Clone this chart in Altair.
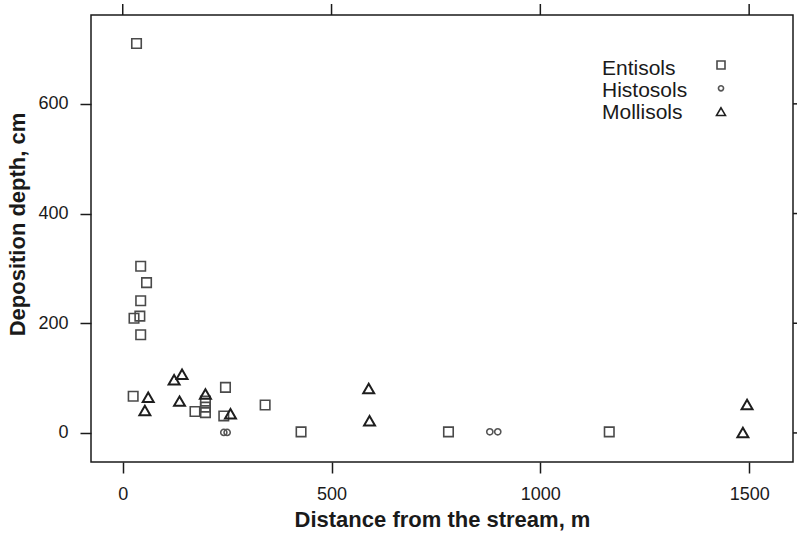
import altair as alt
import pandas as pd

# ---- data ----
soils = ["Entisols", "Histosols", "Mollisols"]

ent_x = [33, 43, 57, 43, 41, 27, 43, 25, 246, 341, 173, 198, 198, 198, 242, 427, 780, 1165]
ent_y = [710, 304, 274, 241, 213, 209, 179, 67, 83, 51, 39, 58, 47, 37, 31, 2, 2, 2]

his_x = [242, 250, 879, 898]
his_y = [1, 1, 2, 2]

mol_x = [142, 123, 61, 53, 136, 198, 258, 589, 591, 1495, 1485]
mol_y = [107, 97, 65, 41, 58, 71, 35, 81, 22, 52, 1]

x_ticks = [0, 500, 1000, 1500]
y_ticks = [0, 200, 400, 600]

FONT = "Liberation Sans"
INK = "#1a1a1a"
W, H = 702, 447

xscale = alt.Scale(domain=[-76, 1605], nice=False, zero=False)
yscale = alt.Scale(domain=[-53, 762], nice=False, zero=False)

xaxis = alt.Axis(values=x_ticks, format="d", title="Distance from the stream, m", grid=False, domain=False,
                 tickSize=11, tickWidth=1.5, tickColor=INK, labelFontSize=18, labelPadding=12,
                 labelColor=INK, labelFont=FONT, titleFont=FONT, titleFontSize=22,
                 titleFontWeight="bold", titleColor=INK, titlePadding=6, labelFlush=False)
yaxis = alt.Axis(values=y_ticks, format="d", title="Deposition depth, cm", grid=False, domain=False,
                 tickSize=11, tickWidth=1.5, tickColor=INK, labelFontSize=18, labelPadding=12,
                 labelColor=INK, labelFont=FONT, titleFont=FONT, titleFontSize=22,
                 titleFontWeight="bold", titleColor=INK, titlePadding=8, labelFlush=False,
                 titleY=209)

ent = pd.DataFrame({"x": ent_x, "y": ent_y, "soil": soils[0]})
his = pd.DataFrame({"x": his_x, "y": his_y, "soil": soils[1]})
mol = pd.DataFrame({"x": mol_x, "y": mol_y, "soil": soils[2]})

base_enc = dict(
    x=alt.X("x:Q", scale=xscale, axis=xaxis),
    y=alt.Y("y:Q", scale=yscale, axis=yaxis),
)

ent_layer = alt.Chart(ent).mark_point(shape="square", size=90, filled=False, stroke="#4a4a4a",
                                      strokeWidth=1.6, opacity=1).encode(**base_enc)
his_layer = alt.Chart(his).mark_point(shape="circle", size=38, filled=False, stroke="#555555",
                                      strokeWidth=1.6, opacity=1).encode(**base_enc)
mol_layer = alt.Chart(mol).mark_point(shape="triangle-up", size=120, filled=False, stroke="#1e1e1e",
                                      strokeWidth=2, opacity=1).encode(**base_enc)

# ticks on the top and right edges (lattice style)
top_ticks = alt.Chart(pd.DataFrame({"t": x_ticks})).mark_rule(color=INK, strokeWidth=1.5).encode(
    x=alt.X("t:Q", scale=xscale), y=alt.value(-11), y2=alt.value(0))
right_ticks = alt.Chart(pd.DataFrame({"t": y_ticks})).mark_rule(color=INK, strokeWidth=1.5).encode(
    y=alt.Y("t:Q", scale=yscale), x=alt.value(W), x2=alt.value(W + 11))

# legend inside the panel: text left, symbol right
legend_shapes = ["square", "circle", "triangle-up"]
legend_sizes = [64, 26, 80]
legend_strokes = ["#4a4a4a", "#555555", "#1e1e1e"]
legend_layers = []
for i, name in enumerate(soils):
    d = pd.DataFrame({"label": [name]})
    legend_layers.append(
        alt.Chart(d).mark_text(align="left", baseline="middle", font=FONT, fontSize=21, color=INK).encode(
            text="label:N", x=alt.value(511), y=alt.value(53.5 + 22.2 * i)))
    legend_layers.append(
        alt.Chart(d).mark_point(shape=legend_shapes[i], size=legend_sizes[i], filled=False,
                                stroke=legend_strokes[i], strokeWidth=1.6, opacity=1).encode(
            x=alt.value(630), y=alt.value(50 + 23.3 * i)))

chart = alt.layer(ent_layer, his_layer, mol_layer, top_ticks, right_ticks, *legend_layers).properties(
    width=W, height=H,
    autosize=alt.AutoSizeParams(type="none"),
    padding={"left": 91, "top": 15, "right": 4, "bottom": 75},
    background="white",
).configure_view(stroke=INK, strokeWidth=1.5)

chart.save("out.html", embed_options={"renderer": "svg", "actions": False})
